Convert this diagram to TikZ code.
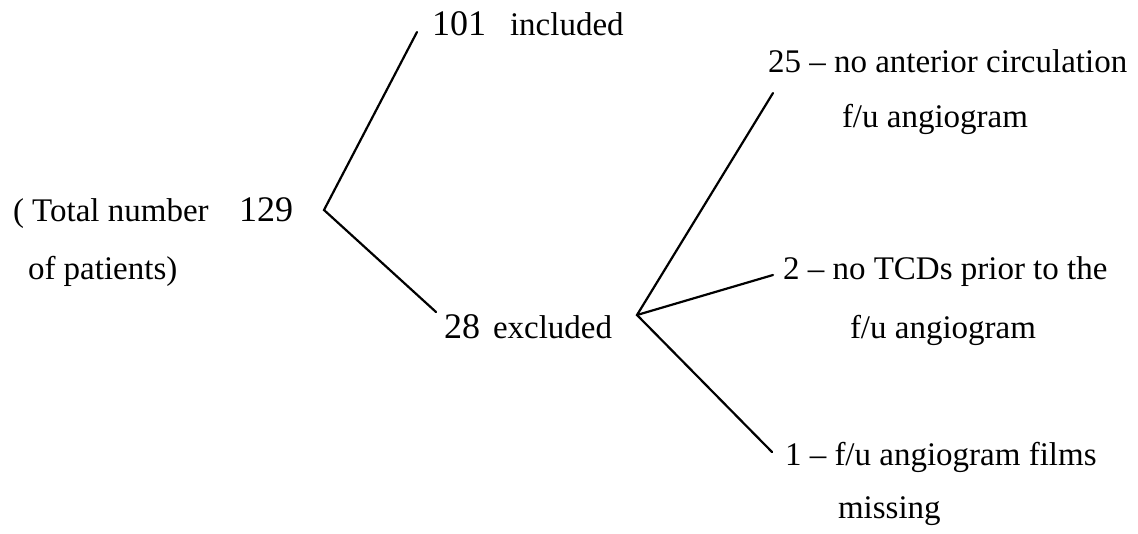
\documentclass[tikz,border=0pt]{standalone}
\usepackage{fontspec}
\setmainfont{Liberation Serif}
\begin{document}
\begin{tikzpicture}[x=1pt,y=-1pt,
  lbl/.style={anchor=base west,inner sep=0pt,outer sep=0pt,font=\fontsize{33}{40}\selectfont},
  num/.style={anchor=base west,inner sep=0pt,outer sep=0pt,font=\fontsize{36}{43}\selectfont},
  branch/.style={draw=black,line width=2.2pt,line cap=round,line join=miter}]
\useasboundingbox (0,0) rectangle (1138,534);

% root: total number of patients
\node[lbl] (tot1) at (13,222) {( Total number};
\node[num] (n129) at (239,222) {129};
\node[lbl] (tot2) at (28,280) {of patients)};

% first split
\node[num] (n101) at (432,36) {101};
\node[lbl] (inc) at (510,36) {included};
\node[num] (n28) at (444,339) {28};
\node[lbl] (exc) at (493,339) {excluded};

% reasons for exclusion
\node[lbl] (a1) at (768,73) {25 – no anterior circulation};
\node[lbl] (a2) at (842,128) {f/u angiogram};
\node[lbl] (b1) at (783,280) {2 – no TCDs prior to the};
\node[lbl] (b2) at (850,339) {f/u angiogram};
\node[lbl] (c1) at (785,465) {1 – f/u angiogram films};
\node[lbl] (c2) at (838,518) {missing};

% branch points and line ends
\coordinate (rootV) at (324,210);
\coordinate (incEnd) at (417,32);
\coordinate (excEnd) at (436,312);
\coordinate (excV) at (637,315);
\coordinate (aEnd) at (773,93);
\coordinate (bEnd) at (773,275);
\coordinate (cEnd) at (772,452);

\draw[branch] (incEnd) -- (rootV) -- (excEnd);
\draw[branch] (aEnd) -- (excV) -- (cEnd);
\draw[branch] (excV) -- (bEnd);
\end{tikzpicture}
\end{document}
